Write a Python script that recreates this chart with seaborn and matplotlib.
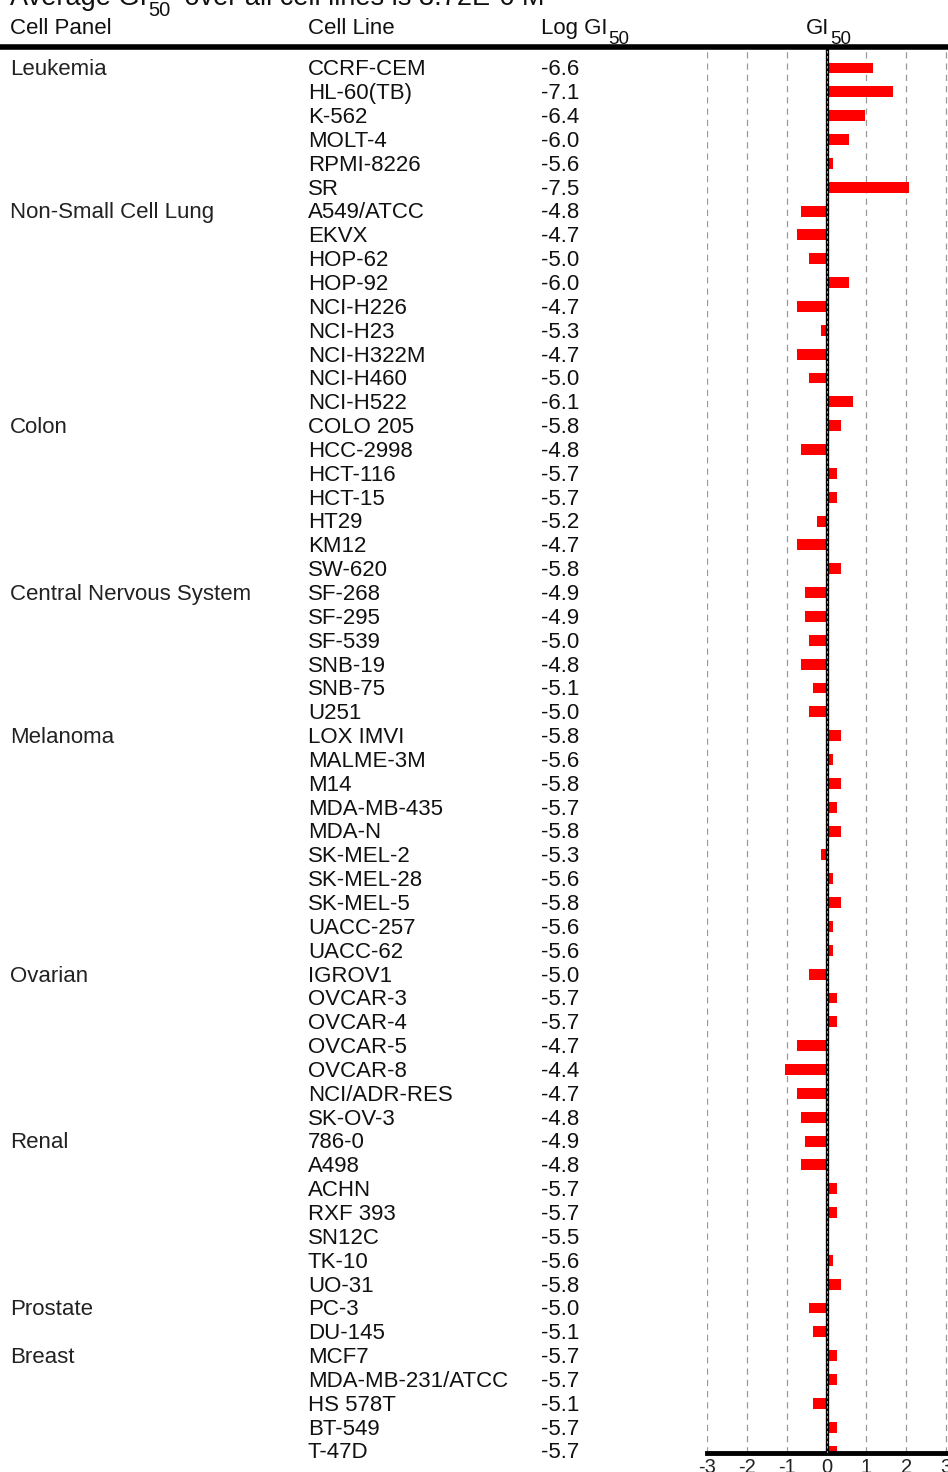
import numpy as np
import pandas as pd
import matplotlib
matplotlib.use("Agg")
import matplotlib.pyplot as plt
import matplotlib.transforms as mtransforms
from matplotlib.lines import Line2D
import seaborn as sns

# Mittelwert GI50 (M)
mean_gi50 = 3.72e-6

panels = ["Leukemia", "Non-Small Cell Lung", "Colon", "Central Nervous System",
          "Melanoma", "Ovarian", "Renal", "Prostate", "Breast"]
panel_sizes = [6, 9, 7, 6, 10, 7, 7, 2, 5]

cell_lines = [
    "CCRF-CEM", "HL-60(TB)", "K-562", "MOLT-4", "RPMI-8226", "SR",
    "A549/ATCC", "EKVX", "HOP-62", "HOP-92", "NCI-H226", "NCI-H23", "NCI-H322M", "NCI-H460", "NCI-H522",
    "COLO 205", "HCC-2998", "HCT-116", "HCT-15", "HT29", "KM12", "SW-620",
    "SF-268", "SF-295", "SF-539", "SNB-19", "SNB-75", "U251",
    "LOX IMVI", "MALME-3M", "M14", "MDA-MB-435", "MDA-N", "SK-MEL-2", "SK-MEL-28", "SK-MEL-5", "UACC-257", "UACC-62",
    "IGROV1", "OVCAR-3", "OVCAR-4", "OVCAR-5", "OVCAR-8", "NCI/ADR-RES", "SK-OV-3",
    "786-0", "A498", "ACHN", "RXF 393", "SN12C", "TK-10", "UO-31",
    "PC-3", "DU-145",
    "MCF7", "MDA-MB-231/ATCC", "HS 578T", "BT-549", "T-47D",
]

log_gi50 = [
    -6.6, -7.1, -6.4, -6.0, -5.6, -7.5,
    -4.8, -4.7, -5.0, -6.0, -4.7, -5.3, -4.7, -5.0, -6.1,
    -5.8, -4.8, -5.7, -5.7, -5.2, -4.7, -5.8,
    -4.9, -4.9, -5.0, -4.8, -5.1, -5.0,
    -5.8, -5.6, -5.8, -5.7, -5.8, -5.3, -5.6, -5.8, -5.6, -5.6,
    -5.0, -5.7, -5.7, -4.7, -4.4, -4.7, -4.8,
    -4.9, -4.8, -5.7, -5.7, -5.5, -5.6, -5.8,
    -5.0, -5.1,
    -5.7, -5.7, -5.1, -5.7, -5.7,
]

x_ticks = [-3, -2, -1, 0, 1, 2, 3]

df = pd.DataFrame({"Cell Line": cell_lines, "LogGI50": log_gi50})
df["Delta"] = np.log10(mean_gi50) - df["LogGI50"]

sns.set_theme(style="white")
plt.rcParams["font.family"] = ["Liberation Sans", "DejaVu Sans"]
plt.rcParams["axes.unicode_minus"] = False

W, H = 948, 1472
fig = plt.figure(figsize=(W / 100, H / 100), dpi=100)

top_px, bot_px = 47, 1453
left_px = 707
ax = fig.add_axes([left_px / W, 1 - bot_px / H, (W - left_px) / W, (bot_px - top_px) / H])

n = len(cell_lines)
for x in x_ticks:
    if x != 0:
        ax.axvline(x, color="#999999", lw=0.9, ls=(0, (5, 4)), zorder=0)

sns.barplot(data=df, x="Delta", y="Cell Line", orient="h", color="#ff0000",
            saturation=1, width=0.46, edgecolor="none", ax=ax, zorder=2)

ax.axvline(0, color="black", lw=2.4, zorder=3)
ax.axvline(0, color="#bbbbbb", lw=0.6, ls=(0, (3, 3)), zorder=4)

ax.set_xlim(-3, 3.05)
ax.set_ylim(n - 1 + 0.08, -0.88)
ax.set_xticks(x_ticks)
ax.set_xticklabels([str(t) for t in x_ticks])
ax.set_yticks([])
ax.set_xlabel("")
ax.set_ylabel("")
for s in ["top", "left", "right"]:
    ax.spines[s].set_visible(False)
ax.spines["bottom"].set_linewidth(3.5)
ax.spines["bottom"].set_color("black")
ax.tick_params(axis="x", length=0, pad=3.5, labelsize=14.5, colors="#222222")
ax.patch.set_alpha(0)

# Textspalten
trans = mtransforms.blended_transform_factory(fig.transFigure, ax.transData)
fs = 16
dy = 0.08
row = 0
for panel, size in zip(panels, panel_sizes):
    ax.text(10 / W, row + dy, panel, transform=trans, ha="left", va="center",
            fontsize=fs, color="#222222", clip_on=False)
    row += size
for i, (name, val) in enumerate(zip(cell_lines, log_gi50)):
    ax.text(308 / W, i + dy, name, transform=trans, ha="left", va="center",
            fontsize=fs, color="#111111", clip_on=False)
    ax.text(541 / W, i + dy, f"{val:.1f}", transform=trans, ha="left", va="center",
            fontsize=fs, color="#111111", clip_on=False)

renderer = fig.canvas.get_renderer()


def text_sub(x, y, main, sub, rest="", size=fs, sub_size=13.5, drop=10, gap=0):
    # Haupttext, tiefgestellte "50", danach evtl. Resttext auf gleicher Grundlinie
    t = fig.text(x, y, main, ha="left", va="baseline", fontsize=size, color="#111111")
    x1 = t.get_window_extent(renderer).x1 / W + 1 / W
    s = fig.text(x1, y - drop / H, sub, ha="left", va="baseline", fontsize=sub_size, color="#111111")
    if rest:
        x2 = s.get_window_extent(renderer).x1 / W + gap / W
        fig.text(x2, y, rest, ha="left", va="baseline", fontsize=size, color="#111111")


# Kopfzeile
hy = 1 - 34 / H
fig.text(10 / W, hy, "Cell Panel", ha="left", va="baseline", fontsize=fs, color="#111111")
fig.text(308 / W, hy, "Cell Line", ha="left", va="baseline", fontsize=fs, color="#111111")
text_sub(541 / W, hy, "Log GI", "50")
text_sub(806 / W, hy, "GI", "50")
text_sub(10 / W, 1 - 5 / H, "Average GI", "50", " over all cell lines is 3.72E-6 M",
         size=19.5, sub_size=14.5, drop=11, gap=7)

fig.add_artist(Line2D([0, 1], [1 - top_px / H, 1 - top_px / H], transform=fig.transFigure,
                      color="black", lw=4))

fig.savefig("out.png", dpi=100)
